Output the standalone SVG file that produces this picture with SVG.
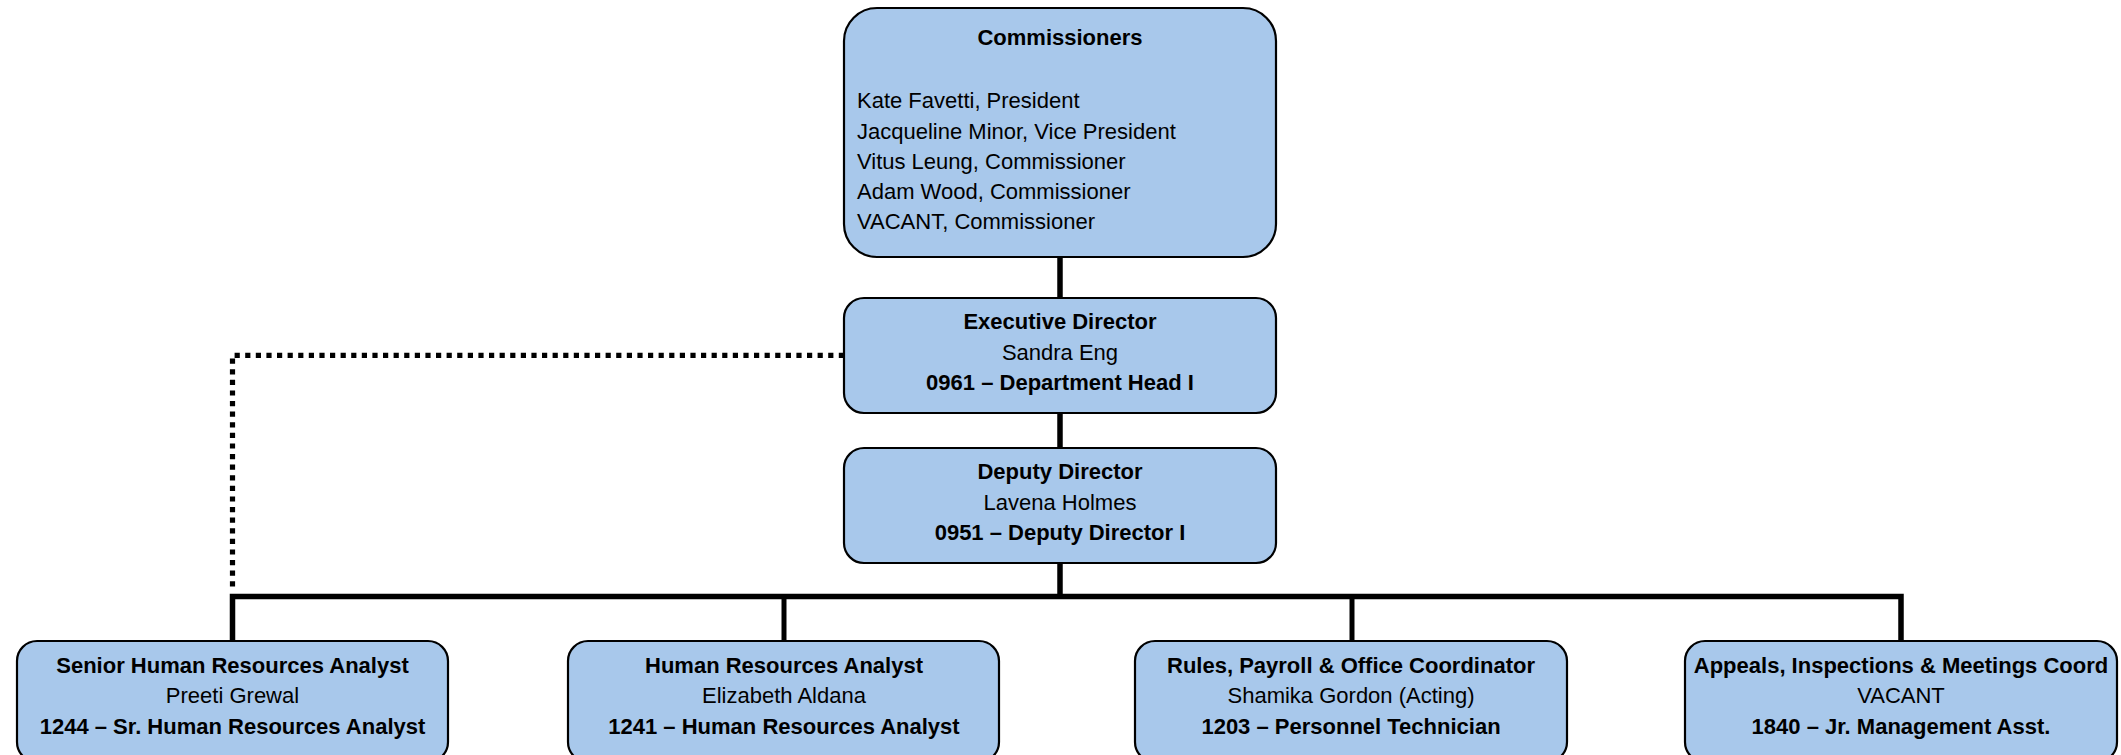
<svg xmlns="http://www.w3.org/2000/svg" width="2121" height="755" viewBox="0 0 2121 755">
<style>
.box{fill:#A8C8EB;stroke:#000;stroke-width:2.2}
text{font-family:"Liberation Sans",Arial,sans-serif;font-size:22px;fill:#000}
.b{font-weight:bold}
.c{text-anchor:middle}
.ln{fill:none;stroke:#000;stroke-width:5.5}
.st{fill:none;stroke:#000;stroke-width:5}
.dot{fill:none;stroke:#000;stroke-width:5.2;stroke-dasharray:5.2 5.4}
</style>
<rect width="2121" height="755" fill="#fff"/>
<g id="connectors">
<line class="ln" x1="1060" y1="257" x2="1060" y2="298"/>
<line class="ln" x1="1060" y1="413" x2="1060" y2="448"/>
<line class="ln" x1="1060" y1="563" x2="1060" y2="596"/>
<path class="ln" d="M232.5,641 V596.5 H1901 V641"/>
<line class="st" x1="784" y1="596" x2="784" y2="641"/>
<line class="st" x1="1352" y1="596" x2="1352" y2="641"/>
<path class="dot" d="M844,355.3 H232.5 V590"/>
</g>
<g id="commissioners">
<rect class="box" x="844" y="8" width="432" height="249" rx="33"/>
<text class="b c" x="1060" y="45">Commissioners</text>
<text x="857" y="108">Kate Favetti, President</text>
<text x="857" y="138.5">Jacqueline Minor, Vice President</text>
<text x="857" y="168.5">Vitus Leung, Commissioner</text>
<text x="857" y="199">Adam Wood, Commissioner</text>
<text x="857" y="229">VACANT, Commissioner</text>
</g>
<g id="executive-director">
<rect class="box" x="844" y="298" width="432" height="115" rx="20"/>
<text class="b c" x="1060" y="329">Executive Director</text>
<text class="c" x="1060" y="360">Sandra Eng</text>
<text class="b c" x="1060" y="390">0961 – Department Head I</text>
</g>
<g id="deputy-director">
<rect class="box" x="844" y="448" width="432" height="115" rx="20"/>
<text class="b c" x="1060" y="479">Deputy Director</text>
<text class="c" x="1060" y="510">Lavena Holmes</text>
<text class="b c" x="1060" y="540">0951 – Deputy Director I</text>
</g>
<g id="senior-hr-analyst">
<rect class="box" x="17" y="641" width="431" height="121" rx="20"/>
<text class="b c" x="232.5" y="673">Senior Human Resources Analyst</text>
<text class="c" x="232.5" y="703">Preeti Grewal</text>
<text class="b c" x="232.5" y="734">1244 – Sr. Human Resources Analyst</text>
</g>
<g id="hr-analyst">
<rect class="box" x="568" y="641" width="431" height="121" rx="20"/>
<text class="b c" x="784" y="673">Human Resources Analyst</text>
<text class="c" x="784" y="703">Elizabeth Aldana</text>
<text class="b c" x="784" y="734">1241 – Human Resources Analyst</text>
</g>
<g id="rules-payroll">
<rect class="box" x="1135" y="641" width="432" height="121" rx="20"/>
<text class="b c" x="1351" y="673">Rules, Payroll &amp; Office Coordinator</text>
<text class="c" x="1351" y="703">Shamika Gordon (Acting)</text>
<text class="b c" x="1351" y="734">1203 – Personnel Technician</text>
</g>
<g id="appeals">
<rect class="box" x="1685" y="641" width="432" height="121" rx="20"/>
<text class="b c" x="1901" y="673">Appeals, Inspections &amp; Meetings Coord</text>
<text class="c" x="1901" y="703">VACANT</text>
<text class="b c" x="1901" y="734">1840 – Jr. Management Asst.</text>
</g>
</svg>
